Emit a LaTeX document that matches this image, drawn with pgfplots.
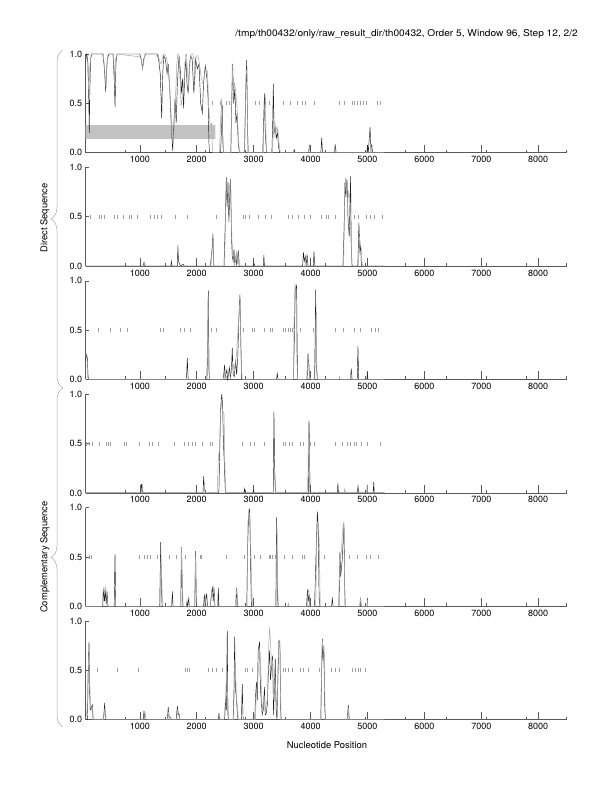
\documentclass[border=0pt]{standalone}
\usepackage{fontspec}
\setmainfont{TeX Gyre Heros}
\usepackage{pgfplots}
\pgfplotsset{compat=1.18}
\usetikzlibrary{decorations.pathreplacing}
\definecolor{lg}{gray}{0.66}
\definecolor{mk}{gray}{0.62}
\definecolor{dk}{gray}{0.12}
\definecolor{ax}{gray}{0.35}
\definecolor{bx}{gray}{0.76}
\newcommand{\fs}{\fontsize{9}{10.8}\selectfont}
\newcommand{\fl}{\fontsize{9.4}{11}\selectfont}
\pgfplotsset{gm/.style={
  anchor=south west,
  scale only axis, width=481pt, height=98.7pt,
  xmin=50, xmax=8500, ymin=0, ymax=1,
  axis x line*=bottom, axis y line*=left,
  axis line style={ax, line width=0.6pt},
  tick align=inside,
  xtick={1000,2000,3000,4000,5000,6000,7000,8000},
  xticklabels={1000,2000,3000,4000,5000,6000,7000,8000},
  minor xtick={740,1445,2149,2854,3558,4263,4967,5672,6376,7081,7785,8490},
  ytick={0,0.5,1}, yticklabels={0.0,0.5,1.0},
  xtick style={ax, line width=0.5pt, /pgfplots/major tick length=8pt, /pgfplots/minor tick length=3pt},
  ytick style={ax, line width=0.5pt, /pgfplots/major tick length=3pt},
  ticklabel style={font=\fs},
  clip=false,
  bl/.style={dk, line width=0.45pt, mark=none},
  gr/.style={lg, line width=0.5pt, mark=none},
  st/.style={only marks, mark=|, mark size=2pt, mk, mark options={line width=0.4pt}},
}}
\begin{document}
\begin{tikzpicture}
\useasboundingbox (0,0) rectangle (612pt,792pt);
\node[anchor=base east, font=\fl, inner sep=0pt, xscale=1.08] at (578pt,755.5pt) {/tmp/th00432/only/raw\_result\_dir/th00432, Order 5, Window 96, Step 12, 2/2};
\node[font=\fl] at (327pt,46.5pt) {Nucleotide Position};
\node[font=\fl, rotate=90] at (45pt,574pt) {Direct Sequence};
\node[font=\fl, rotate=90] at (45pt,235pt) {Complementary Sequence};
\draw[lg, line width=0.5pt, decorate, decoration={brace, amplitude=12pt}] (63pt,404pt) -- (63pt,742pt);
\draw[lg, line width=0.5pt, decorate, decoration={brace, amplitude=12pt}] (63pt,65pt) -- (63pt,404pt);

% Panel 1
\begin{axis}[gm, at={(85.7pt,639.3pt)}]
\addplot[draw=none, fill=bx] coordinates {(50,0.14)(50,0.28)(2330,0.28)(2330,0.14)(50,0.14)};
\addplot[bl] coordinates {(50,0.95)(70,1.0)(90,0.9)(105,0.5)(113,0.2)(122,0.6)(135,0.95)(160,1.0)(350,1.0)(380,0.85)(400,0.62)(415,0.8)(430,0.95)(460,1.0)(530,1.0)(550,0.75)(566,0.46)(580,0.9)(600,1.0)(1000,1.0)(1030,0.93)(1050,0.85)(1070,0.95)(1100,1.0)(1300,1.0)(1330,0.95)(1360,0.8)(1385,0.35)(1400,0.75)(1420,0.98)(1450,0.95)(1480,0.8)(1500,0.9)(1530,0.6)(1555,0.25)(1578,0.02)(1600,0.3)(1620,0.55)(1640,0.3)(1660,0.7)(1690,0.98)(1710,0.85)(1730,0.6)(1750,0.75)(1770,0.45)(1790,0.8)(1810,0.95)(1830,0.7)(1850,0.6)(1870,0.85)(1890,0.98)(1920,0.95)(1950,0.6)(1980,0.95)(2010,0.85)(2040,0.9)(2070,0.5)(2100,0.4)(2120,0.7)(2150,0.88)(2180,0.75)(2200,0.55)(2215,0.1)(2225,0)(2420,0)(2440,0.3)(2450,0.48)(2460,0.1)(2470,0)(2600,0)(2615,0.5)(2632,0.9)(2650,0.5)(2670,0.65)(2690,0.3)(2710,0.4)(2730,0.1)(2750,0)(2840,0)(2860,0.6)(2878,0.94)(2895,0.2)(2905,0)(3160,0)(3175,0.3)(3190,0.6)(3200,0.3)(3215,0.1)(3230,0)(3320,0)(3335,0.3)(3346,0.7)(3360,0.2)(3380,0.25)(3400,0.15)(3420,0.2)(3440,0.05)(3460,0)(3700,0)(3715,0.03)(3730,0)(3960,0)(3985,0.07)(4000,0)(4180,0)(4196,0.15)(4210,0)(4420,0)(4435,0.07)(4450,0)(4990,0)(5000,0.08)(5015,0)(5045,0.26)(5060,0.05)(5075,0.08)(5090,0)(5300,0)};
\addplot[gr] coordinates {(50,0.98)(70,0.95)(90,0.8)(100,0.65)(110,0.7)(125,0.9)(150,1.0)(360,1.0)(390,0.8)(405,0.65)(420,0.85)(440,1.0)(540,1.0)(560,0.7)(575,0.95)(600,1.0)(1020,0.97)(1045,0.85)(1065,0.9)(1090,1.0)(1320,1.0)(1350,0.92)(1375,0.9)(1395,0.95)(1420,1.0)(1460,0.98)(1490,0.9)(1520,0.7)(1545,0.45)(1565,0.15)(1585,0.1)(1600,0.2)(1615,0.5)(1635,0.65)(1650,0.9)(1670,1.0)(1690,0.98)(1710,0.7)(1725,0.47)(1745,0.55)(1760,0.6)(1780,0.75)(1800,0.98)(1820,1.0)(1840,0.8)(1860,0.65)(1880,0.9)(1900,1.0)(1930,1.0)(1950,0.95)(1970,0.75)(1990,0.98)(2020,0.98)(2050,0.9)(2080,0.75)(2110,0.7)(2140,0.8)(2160,0.85)(2190,0.82)(2210,0.5)(2230,0.3)(2250,0.28)(2265,0.3)(2275,0.05)(2285,0)(2400,0)(2425,0.4)(2440,0.55)(2455,0.2)(2470,0)(2600,0)(2625,0.89)(2645,0.6)(2665,0.7)(2685,0.62)(2705,0.5)(2730,0.2)(2750,0)(2840,0)(2855,0.5)(2870,0.84)(2885,0.8)(2900,0)(3170,0)(3185,0.4)(3205,0.58)(3220,0.1)(3235,0)(3330,0)(3345,0.2)(3360,0.33)(3375,0.15)(3390,0.28)(3410,0.2)(3425,0.25)(3445,0.1)(3470,0)(3960,0)(3980,0.06)(3995,0)(4410,0)(4425,0.07)(4440,0)(5050,0)(5060,0.08)(5075,0)(5300,0)};
\addplot[st] coordinates {(2274,0.5)(2420,0.5)(2526,0.5)(2579,0.5)(3035,0.5)(3106,0.5)(3211,0.5)(3270,0.5)(3521,0.5)(3650,0.5)(3767,0.5)(3855,0.5)(3914,0.5)(4060,0.5)(4499,0.5)(4599,0.5)(4733,0.5)(4774,0.5)(4821,0.5)(4880,0.5)(4926,0.5)(4985,0.5)(5172,0.5)(5231,0.5)};
\end{axis}

% Panel 2
\begin{axis}[gm, at={(85.7pt,525.9pt)}]
\addplot[bl] coordinates {(50,0)(1060,0)(1075,0.04)(1090,0)(1545,0)(1555,0.05)(1565,0)(1660,0)(1670,0.21)(1680,0.05)(1700,0.02)(1720,0)(1760,0.02)(1780,0)(2240,0)(2260,0.12)(2275,0.2)(2285,0.33)(2295,0.05)(2305,0)(2480,0)(2500,0.4)(2520,0.9)(2535,0.6)(2550,0.85)(2565,0.45)(2580,0.7)(2596,0.88)(2610,0.3)(2625,0.1)(2640,0.05)(2655,0.17)(2670,0.02)(2690,0.1)(2705,0)(2730,0.16)(2745,0)(2990,0)(3006,0.03)(3020,0)(3170,0)(3180,0.11)(3190,0)(3860,0)(3875,0.14)(3890,0.05)(3910,0.1)(3925,0)(3940,0.12)(3955,0)(4050,0)(4060,0.15)(4075,0)(4570,0)(4590,0.4)(4605,0.85)(4620,0.7)(4640,0.88)(4660,0.45)(4680,0.3)(4704,0.91)(4715,0.2)(4730,0)(4830,0)(4850,0.44)(4865,0.15)(4880,0.2)(4890,0.05)(4900,0)(5300,0)};
\addplot[gr] coordinates {(50,0)(1070,0)(1085,0.03)(1100,0)(2250,0)(2270,0.15)(2290,0.3)(2300,0)(2490,0)(2510,0.6)(2530,0.88)(2545,0.75)(2560,0.6)(2575,0.8)(2590,0.85)(2605,0.6)(2620,0.25)(2640,0.1)(2660,0.12)(2680,0.05)(2700,0.14)(2720,0.05)(2740,0.1)(2760,0)(3900,0)(3915,0.08)(3930,0)(4580,0)(4600,0.7)(4616,0.9)(4630,0.8)(4650,0.6)(4670,0.75)(4690,0.7)(4710,0.3)(4725,0)(4840,0)(4860,0.3)(4875,0.22)(4890,0.18)(4900,0.05)(4915,0)(5300,0)};
\addplot[st] coordinates {(137,0.5)(283,0.5)(324,0.5)(371,0.5)(559,0.5)(606,0.5)(705,0.5)(810,0.5)(851,0.5)(957,0.5)(1191,0.5)(1250,0.5)(1308,0.5)(1378,0.5)(1630,0.5)(1835,0.5)(2350,0.5)(2819,0.5)(2860,0.5)(2918,0.5)(3076,0.5)(3211,0.5)(3310,0.5)(3603,0.5)(3679,0.5)(3779,0.5)(3896,0.5)(4001,0.5)(4189,0.5)(4282,0.5)(4312,0.5)(4440,0.5)(4763,0.5)(4833,0.5)(4985,0.5)(5043,0.5)(5114,0.5)(5260,0.5)};
\end{axis}

% Panel 3
\begin{axis}[gm, at={(85.7pt,412.5pt)}]
\addplot[bl] coordinates {(50,0.2)(65,0.25)(78,0.22)(90,0.05)(100,0)(1820,0)(1835,0.22)(1850,0)(2180,0)(2192,0.3)(2204,0.9)(2215,0.1)(2225,0)(2460,0)(2475,0.05)(2490,0.15)(2500,0.02)(2530,0.1)(2545,0)(2575,0.12)(2590,0.02)(2610,0.1)(2625,0.32)(2640,0.05)(2660,0.03)(2685,0.2)(2700,0.05)(2720,0.2)(2740,0.6)(2760,0.86)(2775,0.4)(2790,0)(3400,0)(3415,0.06)(3430,0)(3700,0)(3715,0.4)(3730,0.9)(3755,0.95)(3765,0.3)(3775,0)(3940,0)(3955,0.26)(3965,0.2)(3975,0.1)(3990,0)(4070,0)(4080,0.4)(4090,0.91)(4100,0.15)(4115,0.04)(4125,0)(4700,0)(4716,0.11)(4730,0)(4820,0)(4833,0.34)(4845,0)(4990,0)(4995,0.07)(5010,0)(5300,0)};
\addplot[gr] coordinates {(50,0.25)(70,0.22)(85,0.02)(100,0)(2170,0)(2185,0.2)(2200,0.85)(2212,0.3)(2225,0)(2480,0)(2495,0.1)(2510,0)(2560,0.08)(2600,0.05)(2640,0.15)(2660,0.1)(2700,0.25)(2730,0.55)(2750,0.75)(2765,0.7)(2780,0.2)(2800,0)(3700,0)(3710,0.6)(3726,0.96)(3740,0.93)(3760,0.2)(3770,0)(3930,0)(3950,0.2)(3965,0.25)(3980,0.05)(4000,0)(4075,0)(4090,0.6)(4100,0.69)(4110,0.1)(4125,0)(4500,0)(4510,0.03)(4520,0)(4700,0)(4710,0.08)(4720,0)(5300,0)};
\addplot[st] coordinates {(266,0.5)(488,0.5)(652,0.5)(781,0.5)(1355,0.5)(1413,0.5)(1706,0.5)(1777,0.5)(1882,0.5)(2257,0.5)(2350,0.5)(2819,0.5)(2977,0.5)(3006,0.5)(3182,0.5)(3299,0.5)(3328,0.5)(3521,0.5)(3562,0.5)(3603,0.5)(3650,0.5)(3679,0.5)(3826,0.5)(4048,0.5)(4441,0.5)(4575,0.5)(4763,0.5)(4880,0.5)(5067,0.5)(5143,0.5)(5190,0.5)};
\end{axis}

% Panel 4
\begin{axis}[gm, at={(85.7pt,299.1pt)}]
\addplot[bl] coordinates {(50,0)(1020,0)(1030,0.09)(1045,0.02)(1060,0)(2110,0)(2122,0.17)(2135,0.05)(2150,0)(2390,0)(2400,0.3)(2420,0.85)(2440,1.0)(2455,0.9)(2470,0.5)(2485,0.3)(2500,0.05)(2510,0)(2830,0)(2840,0.04)(2850,0)(2990,0)(3000,0.03)(3010,0)(3345,0)(3357,0.82)(3370,0.2)(3385,0)(3960,0)(3975,0.72)(3990,0.05)(4000,0)(4470,0)(4480,0.1)(4490,0)(4820,0)(4833,0.07)(4845,0)(5100,0)(5110,0.11)(5120,0)(5300,0)};
\addplot[gr] coordinates {(50,0)(1030,0)(1045,0.08)(1060,0)(2120,0)(2135,0.1)(2150,0)(2360,0)(2380,0.35)(2400,0.45)(2430,0.95)(2450,0.85)(2480,0.8)(2495,0.3)(2510,0)(3350,0)(3365,0.25)(3375,0.2)(3390,0)(3940,0)(3955,0.2)(3965,0.74)(3980,0.5)(3990,0)(4590,0)(4600,0.04)(4610,0)(4980,0)(4995,0.08)(5005,0)(5300,0)};
\addplot[st] coordinates {(67,0.5)(108,0.5)(166,0.5)(283,0.5)(418,0.5)(442,0.5)(488,0.5)(723,0.5)(769,0.5)(986,0.5)(1162,0.5)(1220,0.5)(1320,0.5)(1613,0.5)(1788,0.5)(1847,0.5)(1923,0.5)(1981,0.5)(2099,0.5)(2233,0.5)(2274,0.5)(2801,0.5)(2948,0.5)(3006,0.5)(3193,0.5)(3521,0.5)(3562,0.5)(3621,0.5)(3679,0.5)(3826,0.5)(3873,0.5)(3990,0.5)(4072,0.5)(4441,0.5)(4558,0.5)(4645,0.5)(4704,0.5)(4763,0.5)(4809,0.5)(4891,0.5)(4997,0.5)(5231,0.5)};
\end{axis}

% Panel 5
\begin{axis}[gm, at={(85.7pt,185.7pt)}]
\addplot[bl] coordinates {(50,0)(350,0)(365,0.18)(380,0.05)(395,0.16)(410,0.02)(425,0.15)(440,0)(550,0)(565,0.53)(578,0)(1350,0)(1367,0.65)(1380,0.2)(1392,0)(1560,0)(1572,0.15)(1585,0)(1720,0)(1735,0.6)(1748,0.1)(1760,0)(1820,0)(1830,0.05)(1840,0)(1860,0.08)(1870,0)(1965,0)(1981,0.56)(1995,0)(2120,0)(2135,0.12)(2150,0.02)(2175,0.13)(2190,0)(2240,0)(2255,0.1)(2275,0.2)(2290,0.05)(2305,0.18)(2320,0)(2370,0)(2380,0.19)(2390,0)(2690,0)(2700,0.19)(2715,0.05)(2725,0)(2880,0)(2895,0.6)(2910,0.9)(2930,0.99)(2945,0.5)(2960,0)(3390,0)(3404,0.9)(3418,0.1)(3430,0)(3930,0)(3945,0.17)(3960,0.05)(3975,0.12)(3990,0)(4070,0)(4085,0.3)(4100,0.6)(4120,0.96)(4135,0.8)(4150,0.1)(4165,0)(4370,0)(4382,0.09)(4395,0)(4500,0)(4517,0.55)(4530,0.3)(4560,0.5)(4587,0.85)(4600,0.2)(4610,0)(4870,0)(4880,0.08)(4890,0)(5300,0)};
\addplot[gr] coordinates {(50,0)(340,0)(355,0.15)(370,0.19)(385,0.12)(400,0.19)(420,0.1)(440,0)(550,0)(565,0.1)(580,0)(1355,0)(1370,0.5)(1385,0.3)(1400,0)(1715,0)(1730,0.6)(1745,0.3)(1760,0)(1965,0)(1978,0.5)(1995,0.1)(2005,0)(2130,0)(2150,0.1)(2165,0)(2240,0)(2260,0.15)(2280,0.12)(2300,0.2)(2320,0)(2680,0)(2695,0.17)(2710,0.12)(2725,0)(2880,0)(2900,0.85)(2915,0.97)(2935,0.9)(2950,0.6)(2965,0.23)(2980,0)(3395,0)(3410,0.83)(3422,0.2)(3435,0)(3600,0)(3610,0.03)(3620,0)(3940,0)(3955,0.15)(3970,0.17)(3985,0)(4090,0)(4110,0.7)(4125,0.85)(4140,0.83)(4155,0.6)(4170,0)(4490,0)(4510,0.4)(4540,0.55)(4560,0.75)(4575,0.83)(4590,0.6)(4605,0)(4860,0)(4875,0.08)(4890,0)(4990,0)(4995,0.07)(5005,0)(5300,0)};
\addplot[st] coordinates {(108,0.5)(149,0.5)(986,0.5)(1074,0.5)(1132,0.5)(1191,0.5)(1308,0.5)(1513,0.5)(1648,0.5)(1806,0.5)(2057,0.5)(2081,0.5)(2526,0.5)(2842,0.5)(3006,0.5)(3111,0.5)(3270,0.5)(3299,0.5)(3328,0.5)(3387,0.5)(3533,0.5)(3679,0.5)(3855,0.5)(3884,0.5)(4236,0.5)(4499,0.5)(4675,0.5)(4821,0.5)(4985,0.5)(5055,0.5)(5184,0.5)};
\end{axis}

% Panel 6
\begin{axis}[gm, at={(85.7pt,72.3pt)}]
\addplot[bl] coordinates {(50,0)(80,0)(95,0.5)(108,0.79)(118,0.3)(130,0.1)(150,0.12)(166,0.15)(178,0.02)(190,0)(360,0)(375,0.1)(383,0.17)(395,0.05)(410,0)(1060,0)(1074,0.09)(1090,0)(1480,0)(1490,0.05)(1500,0.13)(1515,0.03)(1540,0.02)(1560,0)(1640,0)(1660,0.14)(1675,0.05)(1690,0.06)(1705,0)(2380,0)(2391,0.07)(2400,0)(2490,0)(2508,0.21)(2520,0.1)(2537,0.9)(2548,0.05)(2560,0)(2640,0)(2655,0.3)(2667,0.84)(2680,0.3)(2695,0.25)(2710,0.1)(2725,0)(2785,0)(2801,0.36)(2815,0)(3020,0)(3035,0.25)(3050,0.38)(3065,0.2)(3080,0.7)(3105,0.79)(3120,0.3)(3135,0.2)(3150,0.05)(3170,0.1)(3190,0.33)(3205,0.05)(3220,0.06)(3240,0.15)(3260,0.5)(3281,0.7)(3295,0.4)(3310,0.5)(3334,0.65)(3350,0.05)(3365,0.3)(3380,0.62)(3395,0.1)(3410,0)(3430,0.5)(3445,0.8)(3462,0.78)(3475,0.1)(3485,0)(4180,0)(4195,0.5)(4207,0.82)(4220,0.6)(4235,0.75)(4250,0.1)(4265,0)(4645,0)(4663,0.15)(4680,0)(5300,0)};
\addplot[gr] coordinates {(50,0)(75,0.1)(90,0.5)(105,0.65)(120,0.4)(135,0.15)(150,0.1)(170,0.12)(185,0)(365,0)(383,0.1)(395,0.08)(410,0)(1080,0)(1095,0.06)(1110,0)(1490,0)(1505,0.08)(1520,0)(1650,0)(1665,0.1)(1680,0.08)(1700,0)(2480,0)(2500,0.15)(2515,0.35)(2530,0.5)(2545,0.2)(2560,0)(2650,0)(2665,0.6)(2680,0.55)(2700,0.2)(2715,0.15)(2730,0)(3030,0)(3050,0.3)(3070,0.4)(3090,0.55)(3110,0.7)(3125,0.55)(3140,0.2)(3160,0.1)(3185,0.25)(3200,0.1)(3240,0.2)(3265,0.75)(3281,0.94)(3295,0.8)(3315,0.55)(3335,0.6)(3350,0.2)(3370,0.4)(3390,0.3)(3410,0.05)(3430,0.6)(3450,0.81)(3465,0.7)(3480,0)(4180,0)(4195,0.6)(4210,0.8)(4225,0.7)(4245,0.4)(4260,0)(4650,0)(4665,0.12)(4680,0)(5300,0)};
\addplot[st] coordinates {(254,0.5)(606,0.5)(974,0.5)(1806,0.5)(1835,0.5)(1864,0.5)(2198,0.5)(2274,0.5)(2350,0.5)(2450,0.5)(2848,0.5)(2889,0.5)(2977,0.5)(3521,0.5)(3562,0.5)(3603,0.5)(3679,0.5)(3814,0.5)(3873,0.5)(3955,0.5)(4148,0.5)(4364,0.5)(4441,0.5)(4499,0.5)(4733,0.5)(4792,0.5)(4833,0.5)(4868,0.5)(4967,0.5)};
\end{axis}
\end{tikzpicture}
\end{document}
